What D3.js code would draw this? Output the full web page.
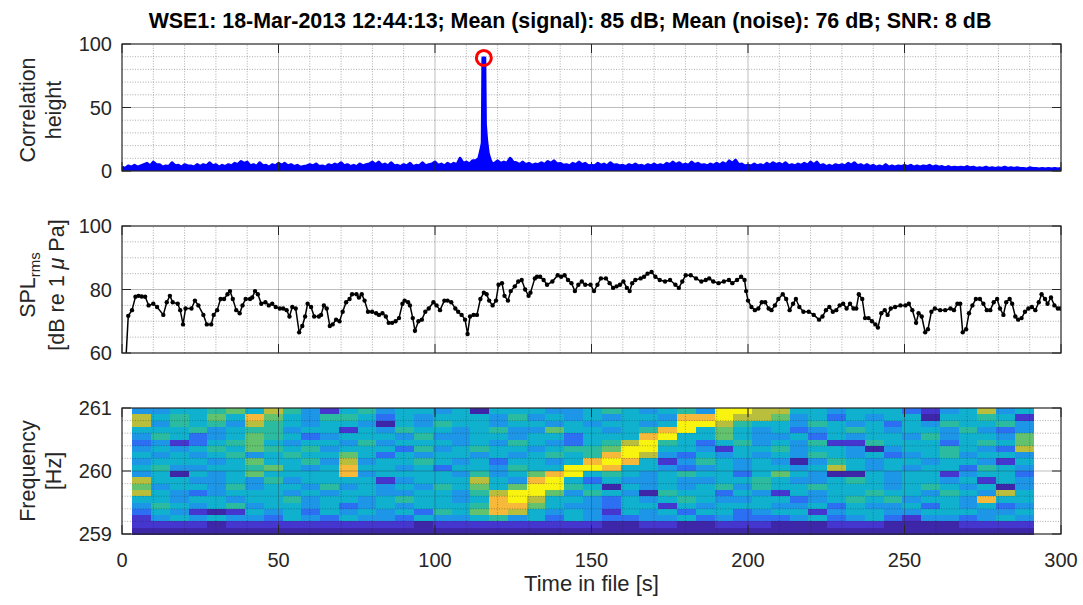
<!DOCTYPE html>
<html>
<head>
<meta charset="UTF-8">
<title>WSE1 detection</title>
<script src="https://cdn.jsdelivr.net/npm/d3@7"></script>
<style>
  body { margin: 0; background: #fff; }
  svg { display: block; font-family: "Liberation Sans", Arial, sans-serif; }
  .minor { stroke: #262626; stroke-opacity: 0.38; stroke-dasharray: 1,1.6; stroke-width: 1; }
  .major { stroke: #262626; stroke-opacity: 0.3; stroke-width: 1; }
  .tick { stroke: #262626; stroke-width: 1; }
  .ticklabel { font-size: 20px; fill: #262626; }
  .ylabel { font-size: 21.5px; fill: #262626; }
</style>
</head>
<body>
<div id="chart"></div>
<script>
// ---- data ----
const titleText = "WSE1: 18-Mar-2013 12:44:13; Mean (signal): 85 dB; Mean (noise): 76 dB; SNR: 8 dB";
const xTicks = [0, 50, 100, 150, 200, 250, 300];

// correlation envelope, one value per second from 0 to 300
const corrValue = [
  3, 2, 4, 3, 4.5, 3, 4, 5, 6, 4,
  7, 5, 5, 3, 4, 3.5, 6.5, 4, 4.5, 3,
  5, 4, 4, 3, 5, 3.5, 5, 4, 6.5, 4,
  5, 3, 4.5, 3.5, 5, 4, 6, 5, 7.5, 6,
  7, 4, 5, 3.5, 6.5, 4, 4.5, 3, 5, 4,
  6, 4.5, 6, 4, 5, 3.5, 4.5, 3, 3.5, 4,
  5, 4, 5.5, 3.5, 4, 3, 5, 4, 5.5, 4.5,
  6.5, 4, 5, 3.5, 4.5, 3.5, 5.5, 4, 5, 5.5,
  7, 5, 7, 4.5, 5.5, 4, 6.5, 4, 4.5, 3.5,
  5, 4, 6, 3.5, 4.5, 4, 6.5, 4, 5, 5.5,
  7, 4.5, 5.5, 4, 6, 4.5, 6, 5, 10, 6,
  7, 5.5, 8, 8, 10, 20, 30, 14, 9, 6,
  8, 6, 7, 6, 10, 7, 6.5, 5, 7, 5,
  6, 4.5, 5.5, 5, 6.5, 5, 7.5, 6, 8, 5.5,
  6, 4.5, 5, 4, 6, 5, 7, 5, 6, 4,
  4.5, 4, 6, 4.5, 5.5, 4, 6.5, 4.5, 5, 4,
  4.5, 3.5, 5, 4, 5.5, 4, 4.5, 3.5, 5, 4,
  5.5, 4, 5, 4, 6, 5, 7, 5, 6.5, 4.5,
  5.5, 4.5, 7, 5, 6, 4.5, 5, 4, 5.5, 4.5,
  6, 4.5, 6.5, 5, 8, 6, 8.5, 5, 5.5, 4,
  4.5, 4, 5.5, 4, 5, 4, 6, 4.5, 6.5, 5,
  6, 4.5, 6.5, 4, 5, 4, 5.5, 4.5, 6, 4.5,
  7, 5, 7, 4, 5, 3.5, 4.5, 3.5, 5, 4,
  5, 4, 6, 4.5, 6.5, 4, 5, 3.5, 5, 3.5,
  4.5, 3, 4, 3, 5, 3, 4, 3, 4, 3.5,
  4.5, 3.5, 4.5, 3, 4, 3, 4, 3.5, 4.5, 3,
  4, 3, 3.5, 2.5, 3.5, 2.5, 3, 2.5, 3, 2.5,
  3.5, 2.5, 3, 2, 2.5, 2, 3, 2, 2.5, 2,
  2.5, 2, 3, 2, 2.5, 2, 2.5, 2, 2, 1.5,
  2.5, 2, 2, 1.5, 2, 1.5, 2, 1.5, 2, 1.5,
  2
];
// detail around the detection peak
const corrPeakTime  = [113, 114, 114.6, 115.1, 115.3, 115.9, 116.1, 116.5, 117, 117.6, 118.2];
const corrPeakValue = [8, 10, 16, 22, 89, 89, 37, 24, 14, 9, 6];
const corrMax = { t: 115.6, v: 89 };

const splTime = [1.3,2,3.2,4.3,5.3,6.3,7.4,8.5,10,11.2,13.2,14.3,15.3,16.2,17.8,18.6,19.5,20.3,22.2,23.3,24.4,26,27.1,28.5,29.3,30.4,31.5,32.6,33.7,34.5,35.4,36.5,37.6,38.5,39.5,40.9,41.6,42.5,43.4,44.5,45.8,46.9,48,49.1,50.4,51.5,52.6,53.5,54.4,55.5,56.6,57.6,58.5,59.3,60.4,61.4,62.9,63.6,64.5,65.4,66.4,67.3,68.4,69.5,70.5,71.6,72.7,73.5,74.9,75.7,76.6,77.5,78.6,79.9,81.2,82.1,83.2,84.3,85.2,86.3,87.4,88.5,89.6,90.3,91.4,92,92.9,93.6,94.7,95.8,96.9,98,99.5,100.5,101.6,103,104,105.2,106.5,107.4,108.5,109.6,110.4,111.2,112.3,113.4,114.5,115.6,116.5,117.3,118.4,119.5,120.3,121.4,122.2,123.3,124.2,125.5,126.6,127.7,128.8,129.9,130.5,131.9,132.6,133.6,134.7,135.8,137.5,139.2,140.3,141.4,142.5,143.6,144.7,145.8,146.9,148,149.7,150.8,151.9,153,154.6,155.8,156.9,158,159.1,160.2,161.3,162.2,163,164,165.7,166.8,167.9,169.2,170.4,171.8,173.5,175.1,176.8,177.9,179,180.1,181.7,183.4,185.1,186.5,187.6,188.9,190.6,192.3,193.9,195,196.5,197.8,198.9,199.4,200,201.1,202.2,203.3,204.4,205.5,206.6,207.5,208.6,209.7,211.1,212.2,213.3,214.4,215.3,216.4,217.7,219.4,221,222.7,223.8,224.9,226,227.1,228.2,229.3,230.4,231.5,232.6,233.7,234.6,235.4,236.5,237.4,238.5,239.6,240.7,241.5,242.6,243.7,244.6,245.6,247,248.7,250.3,251.4,252.5,253.7,254.5,255.5,256.6,257.5,258.6,259.7,261.4,263,264.7,265.8,266.9,267.8,268.6,269.7,270.6,271.7,272.8,274.1,275.2,276.3,277.4,278.5,279.6,280.5,281.6,282.5,283.6,284.4,285.4,286.3,287.4,288.5,289.6,290.7,291.8,292.9,293.8,294.9,295.7,296.8,297.9,299,299.8];
const splValue = [59,71.7,73.5,77.7,78,77.8,77.7,75,75.5,74.5,72,76,78,76,75.5,73.5,69,74,74,76.5,75,72,69,69,72,73.5,77,77,78.5,79.5,77,73.5,72.5,75,77,77,77.5,79.5,78.5,75.5,76,75,75.5,74.5,74,74,73.5,71.5,74.5,74,66.5,68.5,71.5,75.5,74.5,71.5,71.5,72,75,74,68.5,69,70.5,70,73,76,77,78.5,78.5,77.5,78.5,76.5,73,73,72.5,72,72.5,71.5,69.5,69.5,70,71,75.5,76.5,76,75,71,67,70,70.5,73,74,76,75,73.5,76.5,76.5,76,74,73,72,70.5,66,71.5,72,72,77,79,78.5,76.5,75,76.5,81.5,82,78,76.5,79.5,81,82.5,83,80,78,79,83.5,84,84,83,81.5,82.5,84.5,84,84.5,83,82,79.5,81.5,82.5,81.5,81.5,79.5,81.5,83.5,83.5,82,80.5,81,81.5,82.5,80.5,79.5,82,83,83.5,84,85,85.5,84,83,82.5,83,81.5,80.5,82.5,84.5,84.5,83.5,82.5,83,83.5,82.5,82,82.5,83,82,83,84,83,79.5,76.5,74.5,73.5,74,76,76,74,73.5,75,77,78.5,77,73.5,75.5,77,74.5,73,73,72,70.5,71.5,73.5,74.5,73,73.5,75,75.5,74,75.5,74,74,78.5,77,71,71,70,69,68,72.5,73.5,72,74,74.5,75,75,75.5,73.5,69.5,72.5,71.5,66.5,67.5,73,74,73.5,73.5,74,73.5,75.5,75.5,66.5,67.5,72.5,75,77,77,75.5,73.5,73.5,76,77,74,72,76,77,75.5,71.5,70.5,71,73,74,74.5,73.5,76,78.5,77,75.5,77.5,75,74,74];

// spectrogram: 48 time bins x 20 frequency bins, levels 0 (low) .. 9 (high)
const specTimeStart = 3.3, specTimeStep = 6;
const specFreqStart = 259, specFreqStep = 0.1;
const specLevels = [ // top row (260.9-261.0 Hz) first
  "33445647" + "53145344" + "34044433" + "45434539" + "97744344" + "42134734",
  "74546486" + "43554243" + "44435343" + "43443889" + "77634243" + "44044541",
  "73545375" + "43443043" + "54434434" + "34434997" + "54435434" + "24354453",
  "44453455" + "34414354" + "43453364" + "43458946" + "43423454" + "34435323",
  "35423465" + "42344435" + "33443442" + "44489446" + "43342434" + "43534436",
  "23124564" + "34435344" + "43435432" + "45795424" + "53435115" + "44424546",
  "34345465" + "45344425" + "34544345" + "56994431" + "44534430" + "34454327",
  "43434534" + "54464243" + "44343454" + "58973243" + "43435434" + "23453443",
  "34443464" + "45373445" + "43424434" + "89841354" + "34303543" + "44344314",
  "45334456" + "43484434" + "24435449" + "98443234" + "34434743" + "43442543",
  "34043464" + "44483444" + "43534689" + "45434544" + "24643004" + "34413442",
  "74433435" + "34444134" + "44743894" + "24334334" + "45433454" + "34434143",
  "63443534" + "43534343" + "54646995" + "40434345" + "35445444" + "34543403",
  "74323444" + "34344334" + "43579963" + "54305442" + "43143445" + "44354374",
  "44344344" + "53443454" + "43489744" + "32434543" + "34423454" + "53443844",
  "35434534" + "43423434" + "44588643" + "32441434" + "44334243" + "34243423",
  "24310143" + "42434342" + "54687434" + "31434244" + "23441344" + "33444334",
  "13434332" + "43243324" + "33453424" + "32233423" + "22234234" + "21332343",
  "11110111" + "11111110" + "11111111" + "10011001" + "11000111" + "00001111",
  "00000000" + "00000000" + "00000000" + "00000000" + "00000000" + "00000000"
];
const levelColors = ["#3e26a8", "#4536cf", "#2d6ff3", "#1d96e8", "#0fb1cf",
                     "#2bbba0", "#62c26e", "#b9bf3c", "#f7b93a", "#f8f30f"];

// ---- layout ----
const width = 1083, height = 605;
const x = d3.scaleLinear().domain([0, 300]).range([122, 1061]);

const svg = d3.select("#chart").append("svg")
  .attr("width", width)
  .attr("height", height);

svg.append("rect").attr("width", width).attr("height", height).attr("fill", "#fff");

svg.append("text")
  .attr("x", 570)
  .attr("y", 27.5)
  .attr("text-anchor", "middle")
  .attr("font-size", "21.4px")
  .attr("font-weight", "bold")
  .attr("fill", "#000")
  .text(titleText);

function stepValues(d0, d1, step) {
  const n = Math.round((d1 - d0) / step);
  return d3.range(n + 1).map(i => +(d0 + i * step).toFixed(4));
}

function drawGrid(y, yTicks, yMinor) {
  const [yb, yt] = y.range();
  const [d0, d1] = y.domain();
  const g = svg.append("g");
  const xMinor = stepValues(0, 300, 10).filter(v => !xTicks.includes(v));
  const yMin = stepValues(d0, d1, yMinor).filter(v => !yTicks.includes(v));
  g.selectAll(".mx").data(xMinor).join("line").attr("class", "minor")
    .attr("x1", d => x(d)).attr("x2", d => x(d)).attr("y1", yb).attr("y2", yt);
  g.selectAll(".my").data(yMin).join("line").attr("class", "minor")
    .attr("x1", x(0)).attr("x2", x(300)).attr("y1", d => y(d)).attr("y2", d => y(d));
  g.selectAll(".Mx").data(xTicks.slice(1, -1)).join("line").attr("class", "major")
    .attr("x1", d => x(d)).attr("x2", d => x(d)).attr("y1", yb).attr("y2", yt);
  g.selectAll(".My").data(yTicks.slice(1, -1)).join("line").attr("class", "major")
    .attr("x1", x(0)).attr("x2", x(300)).attr("y1", d => y(d)).attr("y2", d => y(d));
}

function drawFrame(y, yTicks, showX) {
  const [yb, yt] = y.range();
  const g = svg.append("g");
  const tl = 9;
  g.selectAll(".tb").data(xTicks).join("line").attr("class", "tick")
    .attr("x1", d => x(d)).attr("x2", d => x(d)).attr("y1", yb).attr("y2", yb - tl);
  g.selectAll(".tt").data(xTicks).join("line").attr("class", "tick")
    .attr("x1", d => x(d)).attr("x2", d => x(d)).attr("y1", yt).attr("y2", yt + tl);
  g.selectAll(".tl").data(yTicks).join("line").attr("class", "tick")
    .attr("x1", x(0)).attr("x2", x(0) + tl).attr("y1", d => y(d)).attr("y2", d => y(d));
  g.selectAll(".tr").data(yTicks).join("line").attr("class", "tick")
    .attr("x1", x(300)).attr("x2", x(300) - tl).attr("y1", d => y(d)).attr("y2", d => y(d));
  g.append("rect")
    .attr("x", x(0)).attr("y", yt)
    .attr("width", x(300) - x(0)).attr("height", yb - yt)
    .attr("fill", "none").attr("stroke", "#262626").attr("stroke-width", 1.2);
  g.selectAll(".yl").data(yTicks).join("text").attr("class", "ticklabel")
    .attr("x", 112).attr("y", d => y(d)).attr("dy", "0.36em")
    .attr("text-anchor", "end").text(d => d);
  if (showX) {
    g.selectAll(".xl").data(xTicks).join("text").attr("class", "ticklabel")
      .attr("x", d => x(d)).attr("y", yb + 33)
      .attr("text-anchor", "middle").text(d => d);
  }
}

function yLabel(cy, build) {
  const t = svg.append("text").attr("class", "ylabel")
    .attr("transform", "translate(0," + cy + ") rotate(-90)")
    .attr("text-anchor", "middle");
  build(t);
}

function clipFor(id, y) {
  const [yb, yt] = y.range();
  svg.append("clipPath").attr("id", id).append("rect")
    .attr("x", x(0)).attr("y", yt).attr("width", x(300) - x(0)).attr("height", yb - yt);
}

// ---- panel 1: correlation ----
const y1 = d3.scaleLinear().domain([0, 100]).range([171, 44]);
const y1Ticks = [0, 50, 100];
drawGrid(y1, y1Ticks, 10);
clipFor("c1", y1);

let corrPts = corrValue.map((v, i) => ({ t: i, v: v }))
  .filter(d => d.t < 113 || d.t > 118.2);
corrPeakTime.forEach((t, i) => corrPts.push({ t: t, v: corrPeakValue[i] }));
corrPts.sort((a, b) => a.t - b.t);

const g1 = svg.append("g").attr("clip-path", "url(#c1)");
g1.append("path").datum(corrPts)
  .attr("d", d3.area().x(d => x(d.t)).y0(y1(0)).y1(d => y1(d.v)))
  .attr("fill", "#0000ff");
g1.append("path").datum(corrPts)
  .attr("d", d3.line().x(d => x(d.t)).y(d => y1(d.v)))
  .attr("fill", "none").attr("stroke", "#0000ff").attr("stroke-width", 3)
  .attr("stroke-linejoin", "round");
svg.append("circle")
  .attr("cx", x(corrMax.t)).attr("cy", y1(corrMax.v)).attr("r", 7.5)
  .attr("fill", "none").attr("stroke", "#ff0000").attr("stroke-width", 3);
drawFrame(y1, y1Ticks, false);
yLabel(110, t => {
  t.append("tspan").attr("x", 0).attr("y", 35).text("Correlation");
  t.append("tspan").attr("x", 0).attr("y", 61).text("height");
});

// ---- panel 2: SPL ----
const y2 = d3.scaleLinear().domain([60, 100]).range([353, 226]);
const y2Ticks = [60, 80, 100];
drawGrid(y2, y2Ticks, 5);
clipFor("c2", y2);
const splPts = splTime.map((t, i) => ({ t: t, v: splValue[i] }));
const g2 = svg.append("g").attr("clip-path", "url(#c2)");
g2.append("path").datum(splPts)
  .attr("d", d3.line().x(d => x(d.t)).y(d => y2(d.v)))
  .attr("fill", "none").attr("stroke", "#000").attr("stroke-width", 1.5);
g2.selectAll("circle").data(splPts).join("circle")
  .attr("cx", d => x(d.t)).attr("cy", d => y2(d.v)).attr("r", 2.2).attr("fill", "#000");
drawFrame(y2, y2Ticks, false);
yLabel(285, t => {
  const l1 = t.append("tspan").attr("x", 0).attr("y", 35);
  l1.append("tspan").text("SPL");
  l1.append("tspan").attr("font-size", "15px").attr("dy", 5).text("rms");
  const l2 = t.append("tspan").attr("x", 0).attr("y", 64);
  l2.append("tspan").text("[dB re 1 ");
  l2.append("tspan").attr("font-style", "italic").text("\u03bc");
  l2.append("tspan").text(" Pa]");
});

// ---- panel 3: spectrogram ----
const y3 = d3.scaleLinear().domain([259, 261]).range([534, 408]);
const y3Ticks = [259, 260, 261];
const cells = [];
specLevels.forEach((row, ri) => {
  const fi = specLevels.length - 1 - ri;
  row.split("").forEach((ch, ci) => {
    cells.push({
      t0: specTimeStart + ci * specTimeStep,
      t1: specTimeStart + (ci + 1) * specTimeStep,
      f0: specFreqStart + fi * specFreqStep,
      f1: specFreqStart + (fi + 1) * specFreqStep,
      level: +ch
    });
  });
});
svg.append("g").selectAll("rect").data(cells).join("rect")
  .attr("x", d => x(d.t0)).attr("width", d => x(d.t1) - x(d.t0) + 0.5)
  .attr("y", d => y3(d.f1)).attr("height", d => y3(d.f0) - y3(d.f1) + 0.5)
  .attr("fill", d => levelColors[d.level])
  .attr("shape-rendering", "crispEdges");
drawGrid(y3, y3Ticks, 0.2);
drawFrame(y3, y3Ticks, true);
yLabel(471, t => {
  t.append("tspan").attr("x", 0).attr("y", 35).text("Frequency");
  t.append("tspan").attr("x", 0).attr("y", 61).text("[Hz]");
});

svg.append("text")
  .attr("x", (x(0) + x(300)) / 2)
  .attr("y", 591)
  .attr("text-anchor", "middle")
  .attr("font-size", "22px")
  .attr("fill", "#262626")
  .text("Time in file [s]");
</script>
</body>
</html>
